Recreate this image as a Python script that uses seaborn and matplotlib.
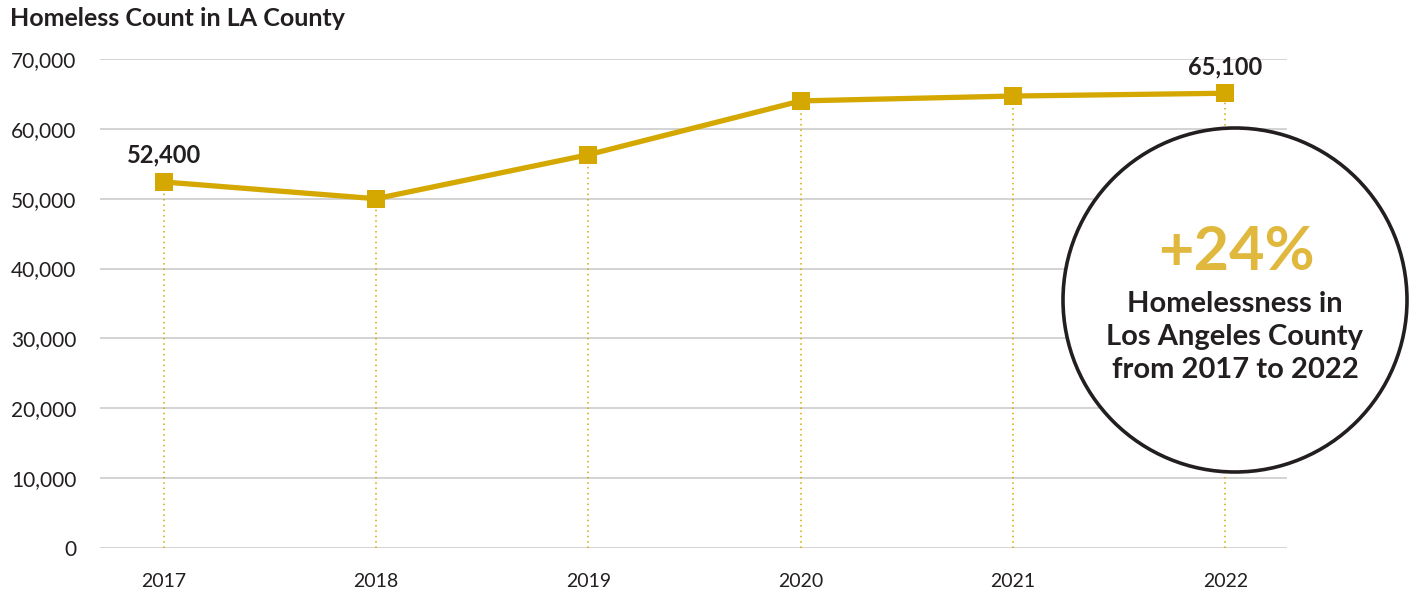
import matplotlib
matplotlib.use("Agg")
import matplotlib.pyplot as plt
import matplotlib.patches as mpatches
import seaborn as sns
import pandas as pd

years = [2017, 2018, 2019, 2020, 2021, 2022]
counts = [52400, 50000, 56300, 64000, 64700, 65100]
y_ticks = [0, 10000, 20000, 30000, 40000, 50000, 60000, 70000]
labeled_years = [2017, 2022]

GOLD = "#D4A800"
LIGHT_GOLD = "#E1B83E"
DARK = "#231F20"

sns.set_theme(style="white")
plt.rcParams["font.family"] = ["Lato", "DejaVu Sans"]

df = pd.DataFrame({"year": years, "count": counts})

fig = plt.figure(figsize=(14.16, 5.96), dpi=100)
ax = fig.add_axes([0.0706, 0.0805, 0.8383, 0.8205])

# dotted drop lines from each point to the baseline
for yr, c in zip(years, counts):
    ax.plot([yr, yr], [0, c], color=GOLD, lw=1.1, ls=(0, (1, 2.5)), zorder=2)

sns.lineplot(data=df, x="year", y="count", ax=ax, color=GOLD, lw=3.8,
             marker="s", markersize=12.5, markeredgewidth=0, zorder=4)

for yr, c in zip(years, counts):
    if yr in labeled_years:
        ax.annotate(f"{c:,}", (yr, c), xytext=(0, 11), textcoords="offset points",
                    ha="center", va="bottom", fontsize=17, fontweight="bold",
                    color=DARK)

ax.set_xlim(2016.70, 2022.29)
ax.set_ylim(0, 70000)
ax.set_yticks(y_ticks)
ax.set_yticklabels([f"{v:,}" for v in y_ticks])
ax.set_xticks(years)
ax.set_xticklabels([str(y) for y in years])
ax.tick_params(axis="y", labelsize=15, colors=DARK, pad=17, length=0)
ax.tick_params(axis="x", labelsize=14, colors=DARK, pad=18, length=0)
ax.yaxis.grid(True, color="#C8C8C8", lw=1.1)
ax.xaxis.grid(False)
ax.set_axisbelow(True)
for s in ax.spines.values():
    s.set_visible(False)
ax.set_xlabel("")
ax.set_ylabel("")

fig.text(0.007, 0.969, "Homeless Count in LA County", fontsize=18,
         fontweight="bold", color=DARK, ha="left", va="center")

# callout circle
circ = mpatches.Circle((1235 / 100, (596 - 300) / 100), 1.72,
                       transform=fig.dpi_scale_trans, facecolor="white",
                       edgecolor=DARK, lw=2.6, zorder=10)
fig.add_artist(circ)

fig.text(1236 / 1416, 1 - 252 / 596, "+24%", fontsize=44, fontweight="bold",
         color=LIGHT_GOLD, ha="center", va="center", zorder=11)
fig.text(1235 / 1416, 1 - 337 / 596,
         "Homelessness in\nLos Angeles County\nfrom 2017 to 2022",
         fontsize=21, fontweight="bold", color=DARK, ha="center", va="center",
         linespacing=1.33, zorder=11)

fig.savefig("out.png", dpi=100)
